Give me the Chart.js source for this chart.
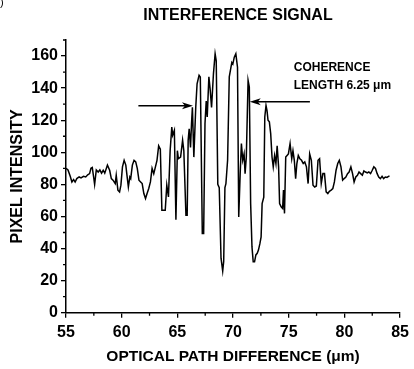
<!DOCTYPE html>
<html>
<head>
<meta charset="utf-8">
<script src="https://cdn.jsdelivr.net/npm/chart.js@4.4.1/dist/chart.umd.min.js"></script>
<style>
  body { margin: 0; background: #fff; }
  #wrap { width: 414px; height: 369px; position: relative; }
</style>
</head>
<body>
<div id="wrap"><canvas id="signal-chart"></canvas></div>
<script>
// Optical path difference (um) and pixel intensity
const opticalPath = [
  55.00, 55.18, 55.38, 55.53, 55.68, 55.82, 55.97, 56.18, 56.35, 56.57,
  56.77, 56.95, 57.12, 57.24, 57.36, 57.48, 57.57, 57.72, 57.89, 58.04,
  58.19, 58.34, 58.48, 58.72, 58.92, 59.07, 59.22, 59.42, 59.51, 59.66,
  59.81, 59.93, 60.07, 60.22, 60.37, 60.51, 60.60, 60.73, 60.81, 60.96,
  61.11, 61.26, 61.40, 61.55, 61.70, 61.84, 61.99, 62.14, 62.28, 62.43,
  62.58, 62.73, 62.88, 63.03, 63.17, 63.32, 63.47, 63.61, 63.76, 63.91,
  64.05, 64.20, 64.35, 64.50, 64.58, 64.73, 64.87, 65.00, 65.09, 65.29,
  65.47, 65.58, 65.77, 65.88, 65.97, 66.06, 66.18, 66.27, 66.35, 66.48,
  66.65, 66.77, 66.95, 67.06, 67.24, 67.36, 67.48, 67.59, 67.68, 67.83,
  67.94, 68.07, 68.24, 68.39, 68.49, 68.63, 68.76, 68.92, 69.07, 69.16,
  69.27, 69.36, 69.51, 69.66, 69.81, 69.89, 69.98, 70.11, 70.25, 70.40,
  70.51, 70.64, 70.75, 70.87, 70.99, 71.08, 71.19, 71.35, 71.46, 71.58,
  71.70, 71.81, 71.93, 72.05, 72.17, 72.28, 72.41, 72.52, 72.61, 72.76,
  72.85, 72.96, 73.05, 73.14, 73.26, 73.38, 73.50, 73.61, 73.73, 73.85,
  73.96, 74.09, 74.18, 74.32, 74.45, 74.53, 74.62, 74.73, 74.85, 74.97,
  75.12, 75.27, 75.38, 75.50, 75.62, 75.73, 75.86, 76.00, 76.15, 76.30,
  76.44, 76.59, 76.74, 76.88, 77.03, 77.18, 77.33, 77.48, 77.63, 77.77,
  77.92, 78.07, 78.21, 78.36, 78.51, 78.65, 78.81, 78.96, 79.10, 79.25,
  79.40, 79.54, 79.69, 79.84, 79.98, 80.13, 80.28, 80.42, 80.58, 80.73,
  80.87, 81.02, 81.17, 81.31, 81.46, 81.61, 81.75, 81.90, 82.05, 82.19,
  82.35, 82.50, 82.64, 82.79, 82.94, 83.08, 83.23, 83.38, 83.52, 83.67,
  83.82, 83.96, 84.05
];
const pixelIntensity = [
  90, 89, 85, 81.5, 83, 81.5, 83.6, 84.6, 84, 85,
  84.6, 86, 86.7, 90, 90.5, 84.6, 80, 89, 87.7, 89,
  87, 88.8, 87, 92, 88.8, 83.6, 82.6, 80.5, 85.7, 76.4,
  75.3, 79.5, 90.9, 95, 92, 83.6, 78.4, 84.6, 83.6, 92,
  95, 94, 90, 82.6, 81.5, 80.5, 74.3, 71.2, 74.3, 77.4,
  81.5, 90, 86.7, 90.9, 95, 104, 102, 63.9, 63.9, 63.9,
  79.5, 72.2, 101, 115.7, 110.6, 113.7, 58, 101, 96, 97,
  107.5, 101, 60.8, 60.8, 107.5, 114.7, 103, 117.8, 128, 97,
  128, 142.7, 148, 147, 49.4, 49.4, 117.8, 132, 122, 147,
  139.6, 128, 149, 161.4, 157, 80, 78, 34, 26, 32,
  78, 80.5, 95, 147, 153, 156, 155, 159.3, 161.4, 153,
  59.7, 86.7, 105.4, 95, 99, 86.7, 97, 144.8, 140.6, 68,
  41, 31.7, 31.7, 36, 37, 39, 43, 47.3, 68, 72,
  122, 129.2, 126, 120, 119, 111.6, 97, 90.9, 98, 93,
  104, 90.9, 68, 66, 65, 76.4, 61.9, 97, 98, 99,
  105.4, 96, 101, 95, 83.6, 93, 98, 96, 95, 93,
  94, 90.9, 80.5, 99, 95, 79.5, 78.4, 79, 95, 96,
  80.5, 86.7, 86.7, 75.3, 74.3, 75.7, 76.4, 77.4, 81.5, 88.8,
  93, 95, 90.9, 82.6, 83.6, 84.6, 86.7, 87.7, 90.9, 86.7,
  81.5, 84.6, 85.7, 87.7, 86.7, 85.7, 88.4, 87.7, 87.1, 87.7,
  86.7, 88.8, 90.9, 89.9, 86.7, 84.6, 83.6, 85, 83.6, 84.6,
  84.3, 85, 85.3
];

// Axis ticks
const xMajorTicks = [55, 60, 65, 70, 75, 80, 85];
const xMinorTicks = [57.5, 62.5, 67.5, 72.5, 77.5, 82.5];
const yMajorTicks = [0, 20, 40, 60, 80, 100, 120, 140, 160];
const yMinorTicks = [10, 30, 50, 70, 90, 110, 130, 150, 170];

// Coherence length arrows, in data units: [fromX, toX, y]
const leftArrow = [61.5, 66.4, 129];
const rightArrow = [76.9, 71.5, 131.5];

const FONT = "'Liberation Sans', Arial, sans-serif";

// Draw the title, axis titles, minor ticks and the coherence annotation
const decorPlugin = {
    id: 'decor',
    afterDraw(chart) {
        const ctx = chart.ctx;
        const xs = chart.scales.x;
        const ys = chart.scales.y;
        const area = chart.chartArea;
        ctx.save();
        ctx.fillStyle = '#000';
        ctx.strokeStyle = '#000';

        // minor ticks
        ctx.lineWidth = 1.3;
        ctx.beginPath();
        xMinorTicks.forEach(v => {
            const px = xs.getPixelForValue(v);
            ctx.moveTo(px, area.bottom);
            ctx.lineTo(px, area.bottom + 3);
        });
        yMinorTicks.forEach(v => {
            const py = ys.getPixelForValue(v);
            ctx.moveTo(area.left, py);
            ctx.lineTo(area.left - 3, py);
        });
        ctx.stroke();

        // leftover bracket from the page the figure was cut from
        ctx.font = '11px ' + FONT;
        ctx.textAlign = 'left';
        ctx.textBaseline = 'middle';
        ctx.fillText(')', 0, 3);

        // title
        ctx.font = 'bold 16px ' + FONT;
        ctx.textAlign = 'center';
        ctx.fillText('INTERFERENCE SIGNAL', 238, 16);

        // y axis title
        ctx.save();
        ctx.translate(18, (area.top + area.bottom) / 2);
        ctx.rotate(-Math.PI / 2);
        ctx.fillText('PIXEL INTENSITY', 0, 0);
        ctx.restore();

        // x axis title
        ctx.font = 'bold 15.5px ' + FONT;
        ctx.fillText('OPTICAL PATH DIFFERENCE (\u03bcm)', (area.left + area.right) / 2, 357);

        // annotation text
        ctx.font = 'bold 12px ' + FONT;
        ctx.textAlign = 'left';
        const tx = xs.getPixelForValue(75.45);
        ctx.fillText('COHERENCE', tx, ys.getPixelForValue(153));
        ctx.fillText('LENGTH 6.25 \u03bcm', tx, ys.getPixelForValue(141.5));

        // arrows
        [leftArrow, rightArrow].forEach(a => {
            const x0 = xs.getPixelForValue(a[0]);
            const x1 = xs.getPixelForValue(a[1]);
            const y = ys.getPixelForValue(a[2]);
            const dir = Math.sign(x1 - x0);
            ctx.lineWidth = 1.3;
            ctx.beginPath();
            ctx.moveTo(x0, y);
            ctx.lineTo(x1 - dir * 6, y);
            ctx.stroke();
            ctx.beginPath();
            ctx.moveTo(x1, y);
            ctx.lineTo(x1 - dir * 11, y - 3.5);
            ctx.lineTo(x1 - dir * 8, y);
            ctx.lineTo(x1 - dir * 11, y + 3.5);
            ctx.closePath();
            ctx.fill();
        });

        ctx.restore();
    }
};

const ctx = document.getElementById('signal-chart').getContext('2d');
new Chart(ctx, {
    type: 'line',
    data: {
        datasets: [{
            data: opticalPath.map((x, i) => ({ x: x, y: pixelIntensity[i] })),
            borderColor: '#000',
            borderWidth: 1.5,
            pointRadius: 0,
            tension: 0,
            fill: false
        }]
    },
    options: {
        responsive: true,
        maintainAspectRatio: false,
        animation: false,
        layout: { padding: { left: 0, right: 8.3, top: 40, bottom: 0 } },
        plugins: {
            legend: { display: false },
            tooltip: { enabled: false }
        },
        scales: {
            x: {
                type: 'linear',
                min: 55,
                max: 85,
                afterFit: scale => { scale.height = 56.3; },
                afterBuildTicks: scale => { scale.ticks = xMajorTicks.map(v => ({ value: v })); },
                grid: { drawOnChartArea: false, tickLength: 5, color: '#000', lineWidth: 1.3 },
                border: { color: '#000', width: 1.5 },
                ticks: {
                    color: '#000',
                    padding: 5,
                    font: { family: FONT, size: 16, weight: 'bold' }
                }
            },
            y: {
                min: 0,
                max: 170,
                afterFit: scale => { scale.width = 66; },
                afterBuildTicks: scale => { scale.ticks = yMajorTicks.map(v => ({ value: v })); },
                grid: { drawOnChartArea: false, tickLength: 5, color: '#000', lineWidth: 1.3 },
                border: { color: '#000', width: 1.5 },
                ticks: {
                    color: '#000',
                    padding: 3,
                    font: { family: FONT, size: 16, weight: 'bold' }
                }
            }
        }
    },
    plugins: [decorPlugin]
});
</script>
</body>
</html>
